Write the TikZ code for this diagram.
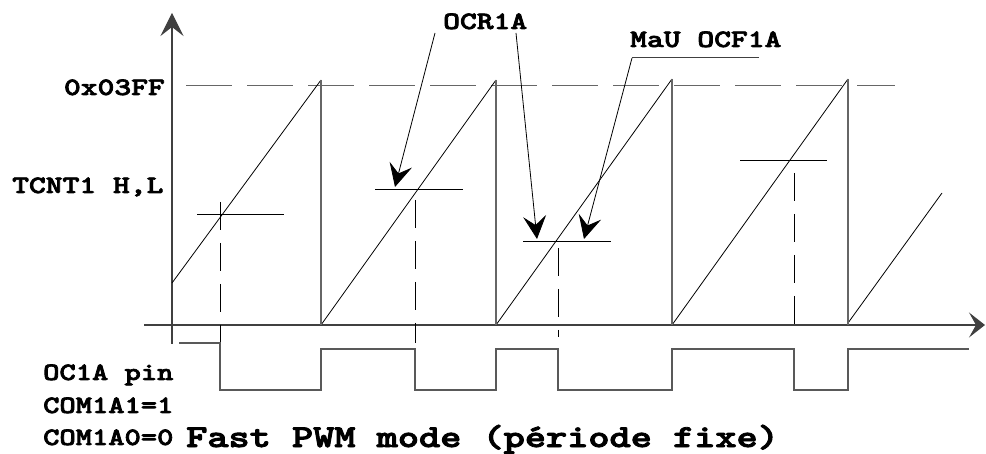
\documentclass[tikz,border=0pt]{standalone}
\usepackage{fontspec}
\usetikzlibrary{arrows.meta}
\newfontfamily\cour{lmmonolt10-bold.otf}[FakeBold=2.5]
\newcommand\mono[3]{\scalebox{#2}[1]{\fontsize{#1}{#1}\selectfont\cour #3}}
\begin{document}
\begin{tikzpicture}[x=1pt,y=-1pt,
  axis/.style={draw=black!75, line width=1.1pt},
  bar/.style={draw=black!60, line width=1.3pt},
  ramp/.style={draw=black, line width=0.8pt},
  level/.style={draw=black, line width=0.9pt},
  guide/.style={draw=black, line width=0.8pt, dash pattern=on 28pt off 13pt},
  topdash/.style={draw=black!60, line width=1pt, dash pattern=on 46pt off 15pt},
  wave/.style={draw=black!65, line width=1.3pt},
  tip/.style={-{Stealth[length=23pt,width=23pt,inset=9pt]}},
  xtip/.style={-{Stealth[length=16pt,width=25pt,inset=7pt]}},
  lbl/.style={inner sep=0pt, anchor=base west},
]
\useasboundingbox (0,0) rectangle (986,454);

% axes
\coordinate (yb) at (172,344); \coordinate (yt) at (172,13);
\coordinate (xl) at (144,325); \coordinate (xr) at (985,325);
\draw[axis,tip] (yb) -- (yt);
\draw[axis,xtip] (xl) -- (xr);

% top level dashed line
\draw[topdash] (186,86) -- (895,86);

% sawtooth
\draw[ramp] (172,283) -- (321,80);
\draw[ramp] (321,325) -- (496,80);
\draw[ramp] (496,325) -- (672,79);
\draw[ramp] (672,325) -- (848,79);
\draw[ramp] (848,323) -- (942,193);
\draw[bar] (321,80) -- (321,325);
\draw[bar] (496,80) -- (496,325);
\draw[bar] (672,79) -- (672,325);
\draw[bar] (848,79) -- (848,325);

% compare levels
\draw[level] (197,214) -- (284,214);
\draw[level] (375,189) -- (463,189);
\draw[level] (523,241) -- (611,241);
\draw[level] (740,160) -- (827,160);

% dashed guides
\draw[guide] (220,202) -- (220,343);
\draw[guide] (415,200) -- (415,343);
\draw[guide] (558,248) -- (558,337);
\draw[guide] (794,173) -- (794,330);

% OC1A waveform
\draw[wave] (179,343) -- (220,343) -- (220,390) -- (321,390) -- (321,349)
  -- (415,349) -- (415,390) -- (496,390) -- (496,349) -- (558,349)
  -- (558,390) -- (672,390) -- (672,349) -- (794,349) -- (794,390)
  -- (848,390) -- (848,349) -- (969,349);

% labels
\node[lbl, anchor=base east] (max) at (165,95) {\mono{25}{1.28}{0x03FF}};
\node[lbl] (tcnt) at (12,193) {\mono{25}{1.28}{TCNT1 H,L}};
\node[lbl] (ocr) at (443,29) {\mono{25}{1.28}{OCR1A}};
\node[lbl] (mau) at (630,47) {\mono{25}{1.28}{MaU OCF1A}};
\node[lbl] (pin) at (43,380) {\mono{25}{1.24}{OC1A pin}};
\node[lbl] (com1) at (43,413) {\mono{25}{1.24}{COM1A1=1}};
\node[lbl] (com0) at (43,445) {\mono{25}{1.24}{COM1A0=0}};
\node[lbl] (title) at (186,447) {\mono{32}{1.26}{Fast PWM mode (période fixe)}};

% callout arrows
\coordinate (o1) at (435,33); \coordinate (t1) at (395,187);
\coordinate (o2) at (516,33); \coordinate (t2) at (537,239);
\coordinate (m0) at (759,58); \coordinate (m1) at (632,58); \coordinate (t3) at (584,239);
\draw[ramp,tip] (o1) -- (t1);
\draw[ramp,tip] (o2) -- (t2);
\draw[axis,line width=1pt] (m0) -- (m1);
\draw[ramp,tip] (m1) -- (t3);
\end{tikzpicture}
\end{document}
